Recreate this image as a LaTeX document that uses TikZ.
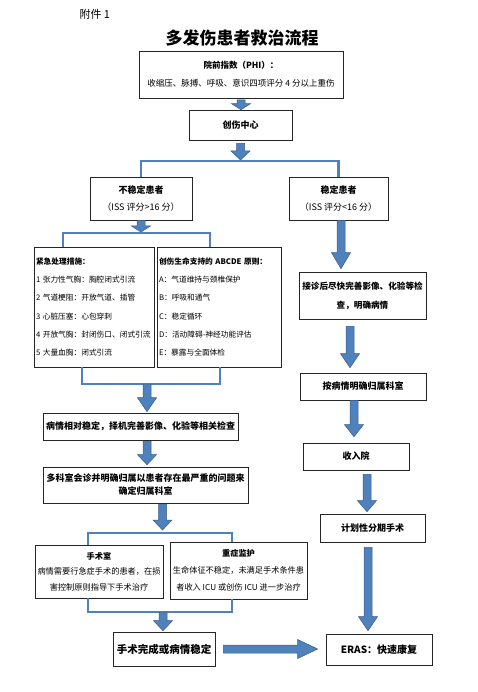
\documentclass[tikz,border=0pt]{standalone}
\usepackage{fontspec}
\setmainfont{Noto Sans CJK SC}
\usetikzlibrary{calc,shadows}

\definecolor{arrowblue}{HTML}{4F81BD}
\definecolor{arrowedge}{HTML}{385D8A}

\tikzset{
    box/.style={draw=black!85, line width=0.6pt, fill=white, inner sep=2pt, align=center,
        font=\fontsize{9}{17}\selectfont,
        drop shadow={shadow xshift=1.2pt, shadow yshift=-1.2pt, fill=black!40}},
    listbox/.style={box, align=left, font=\fontsize{7.7}{18.2}\selectfont},
    bracket/.style={draw=arrowblue, line width=2.6pt},
    blockarrow/.style={fill=arrowblue, draw=arrowedge, line width=0.5pt},
}

% block arrow from (ba) to (bb), head length #1
\newcommand{\blockbody}[1]{%
    \path ($(bb)!#1!(ba)$) coordinate (bh);
    \filldraw[blockarrow] ($(ba)!4pt!90:(bb)$) -- ($(bh)!4pt!-90:(ba)$) -- ($(bh)!9.5pt!-90:(ba)$) -- (bb)
        -- ($(bh)!9.5pt!90:(ba)$) -- ($(bh)!4pt!90:(ba)$) -- ($(ba)!4pt!-90:(bb)$) -- cycle;
}
\newcommand{\vblock}[3][10pt]{%
    \path (#2) coordinate (ba) (#3) coordinate (bt) (ba |- bt) coordinate (bb);
    \blockbody{#1}}
\newcommand{\hblock}[3][10pt]{%
    \path (#2) coordinate (ba) (#3) coordinate (bt) (bt |- ba) coordinate (bb);
    \blockbody{#1}}

\begin{document}
\begin{tikzpicture}[x=1pt, y=-1pt]
    \useasboundingbox (0,0) rectangle (477,692);

    % Heading
    \node[anchor=west, font=\fontsize{11}{13}\selectfont] (annex) at (76,14) {附件 1};
    \node[font=\fontsize{17}{20}\selectfont\bfseries] (title) at (242,38) {多发伤患者救治流程};

    % Top
    \node[box, minimum width=204, minimum height=47, font=\fontsize{8.5}{18}\selectfont] (phi) at (241,74.5)
        {\textbf{院前指数（PHI）：}\\收缩压、脉搏、呼吸、意识四项评分 4 分以上重伤};
    \node[box, minimum width=103, minimum height=30, font=\fontsize{9}{11}\selectfont\bfseries] (center) at (240.5,125) {创伤中心};
    \node[box, minimum width=102, minimum height=43] (unst) at (141,198.5) {\textbf{不稳定患者}\\（ISS 评分>16 分）};
    \node[box, minimum width=99, minimum height=43] (stab) at (338.5,198.5) {\textbf{稳定患者}\\（ISS 评分<16 分）};

    % Unstable branch
    \node[listbox, minimum width=120, minimum height=120, text width=116] (urgent) at (94,307)
        {\textbf{紧急处理措施：}\\1~张力性气胸：胸腔闭式引流\\2~气道梗阻：开放气道、插管\\3~心脏压塞：心包穿刺\\4~开放气胸：封闭伤口、闭式引流\\5~大量血胸：闭式引流};
    \node[listbox, minimum width=124, minimum height=120, text width=120] (abcde) at (219,307)
        {\textbf{创伤生命支持的~ABCDE~原则：}\\A：气道维持与颈椎保护\\B：呼吸和通气\\C：稳定循环\\D：活动障碍-神经功能评估\\E：暴露与全面体检};
    \node[box, minimum width=195, minimum height=27, font=\fontsize{9}{11}\selectfont\bfseries] (relstab) at (140.5,426.5)
        {病情相对稳定，择机完善影像、化验等相关检查};
    \node[box, minimum width=205, minimum height=36, font=\fontsize{9}{13}\selectfont\bfseries] (mdt) at (145.5,485)
        {多科室会诊并明确归属以患者存在最严重的问题来\\确定归属科室};
    \node[box, minimum width=128, minimum height=53, font=\fontsize{8.2}{15.5}\selectfont] (surg) at (99,571.5)
        {\textbf{手术室}\\病情需要行急症手术的患者，在损\\害控制原则指导下手术治疗};
    \node[box, minimum width=137, minimum height=57, font=\fontsize{8.2}{17}\selectfont] (icu) at (238.5,570.5)
        {\textbf{重症监护}\\生命体征不稳定，未满足手术条件患\\者收入 ICU 或创伤 ICU 进一步治疗};
    \node[box, minimum width=102, minimum height=34, font=\fontsize{10.5}{12}\selectfont\bfseries] (done) at (164,649) {手术完成或病情稳定};

    % Stable branch
    \node[box, minimum width=127, minimum height=47, font=\fontsize{8.6}{19}\selectfont\bfseries] (exam) at (362.5,295.5)
        {接诊后尽快完善影像、化验等检\\查，明确病情};
    \node[box, minimum width=126, minimum height=27, font=\fontsize{9}{11}\selectfont\bfseries] (dept) at (363,386.5) {按病情明确归属科室};
    \node[box, minimum width=106, minimum height=27, font=\fontsize{9}{11}\selectfont\bfseries] (admit) at (356,456.5) {收入院};
    \node[box, minimum width=105, minimum height=28, font=\fontsize{9}{11}\selectfont\bfseries] (staged) at (372.5,528) {计划性分期手术};
    \node[box, minimum width=106, minimum height=31, font=\fontsize{10}{12}\selectfont\bfseries] (eras) at (379,649.5) {ERAS：快速康复};

    % Junctions
    \coordinate (j1) at (240,161);
    \coordinate (j2) at (142,233);
    \coordinate (j3) at (147,384);
    \coordinate (j4) at (163,533);
    \coordinate (j5) at (163,612);

    % Brackets
    \draw[bracket] (unst.north) |- (j1) -| (stab.north);
    \draw[bracket] ([xshift=-31pt]urgent.north) |- (j2) -| ([xshift=-9pt]abcde.north);
    \draw[bracket] ([xshift=-12pt]urgent.south) |- (j3) -| ([xshift=1pt]abcde.south);
    \draw[bracket] ([xshift=-11pt]surg.north) |- (j4) -| ([xshift=-6.5pt]icu.north);
    \draw[bracket] ([xshift=-11pt]surg.south) |- (j5) -| ([xshift=-6.5pt]icu.south);

    % Block arrows
    \vblock[6pt]{[yshift=-1.5pt]phi.south}{center.north}
    \vblock[9pt]{[yshift=-3pt]center.south}{[yshift=1pt]j1}
    \vblock[6pt]{unst.south}{[yshift=1pt]j2}
    \vblock[16pt]{[xshift=2.5pt]stab.south}{[yshift=3pt]exam.north}
    \vblock[14pt]{[xshift=-12.5pt,yshift=-7pt]exam.south}{[yshift=5pt]dept.north}
    \vblock[12pt]{[xshift=-9pt]dept.south}{[yshift=6pt]admit.north}
    \vblock[11pt]{[xshift=11pt,yshift=-4pt]admit.south}{[yshift=2pt]staged.north}
    \vblock[14pt]{[xshift=-4.5pt,yshift=-5pt]staged.south}{[yshift=3pt]eras.north}
    \vblock[14pt]{j3}{[yshift=1pt]relstab.north}
    \vblock[10pt]{[xshift=6.5pt,yshift=-1pt]relstab.south}{[yshift=2pt]mdt.north}
    \vblock[10pt]{[xshift=17pt,yshift=-1pt]mdt.south}{[yshift=3pt]j4}
    \vblock[10pt]{j5}{[yshift=1pt]done.north}
    \hblock[20pt]{[xshift=8pt]done.east}{[xshift=-8pt]eras.west}
\end{tikzpicture}
\end{document}
